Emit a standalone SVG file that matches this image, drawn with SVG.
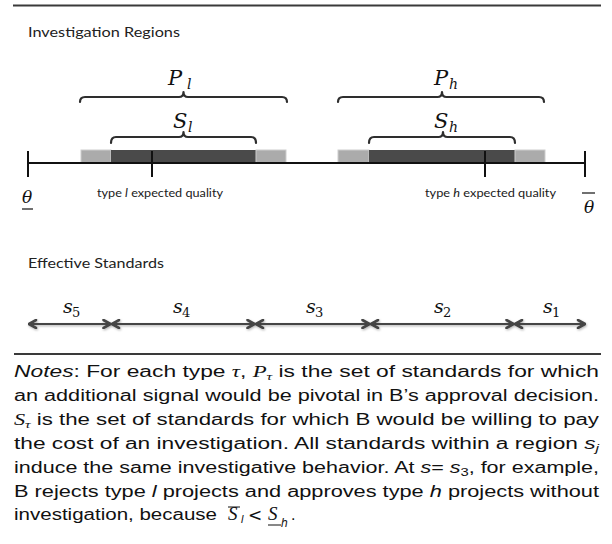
<svg xmlns="http://www.w3.org/2000/svg" width="612" height="544" viewBox="0 0 612 544">
  <style>
    .rule { stroke: #3a3a3a; stroke-width: 2; fill: none; }
    .head { font-family: Lato, "Open Sans", sans-serif; font-size: 14px; fill: #222; }
    .small { font-family: Lato, "Open Sans", sans-serif; font-size: 11px; fill: #1a1a1a; }
    .mi { font-family: "DejaVu Serif", "Liberation Serif", serif; font-style: italic; fill: #111; }
    .mr { font-family: "DejaVu Serif", "Liberation Serif", serif; font-style: normal; fill: #111; }
    .ni { font-family: "Liberation Serif", serif; font-style: italic; }
    .brace { fill: none; stroke: #2e2e2e; stroke-width: 2.2; stroke-linecap: round; stroke-linejoin: round; }
    .tick { stroke: #111; stroke-width: 2; }
    .light { fill: #ababab; stroke: #cdcdcd; stroke-width: 1; }
    .dark { fill: #4a4a4a; }
    .arrow { stroke: #444; stroke-width: 2.2; fill: none; marker-start: url(#chev); marker-end: url(#chev); }
    .notes { font-family: "Liberation Sans", Arial, sans-serif; font-size: 16px; fill: #111; }
    .it { font-style: italic; }
    .sub { font-size: 11px; }
  </style>
  <defs>
    <marker id="chev" viewBox="0 0 10 10" refX="9" refY="5" markerWidth="10" markerHeight="10" markerUnits="userSpaceOnUse" orient="auto-start-reverse">
      <path d="M2,1 L9,5 L2,9" fill="none" stroke="#444" stroke-width="2.6" stroke-linecap="round" stroke-linejoin="round"/>
    </marker>
    <filter id="shadow" filterUnits="userSpaceOnUse" x="0" y="300" width="612" height="50">
      <feDropShadow dx="0.8" dy="1.2" stdDeviation="0.8" flood-color="#000" flood-opacity="0.3"/>
    </filter>
  </defs>

  <g id="top-rule">
    <line class="rule" x1="13" y1="5.5" x2="601" y2="5.5" stroke-width="1.6"/>
  </g>

  <g id="investigation-regions-title">
    <text class="head" x="28" y="37" textLength="152" lengthAdjust="spacingAndGlyphs">Investigation Regions</text>
  </g>

  <g id="region-l">
    <rect class="light" x="81" y="150" width="30" height="13"/>
    <rect class="dark" x="111" y="150" width="145" height="13"/>
    <rect class="light" x="256" y="150" width="30" height="13"/>
    <path class="brace" d="M80,102 Q80,97 85,97 L179,97 Q183.5,97 183.5,92 Q183.5,97 188,97 L282,97 Q287,97 287,102"/>
    <path class="brace" d="M111,143 Q111,137 116,137 L179,137 Q183.5,137 183.5,132 Q183.5,137 188,137 L251,137 Q256,137 256,143"/>
    <text class="mi" x="168" y="85" font-size="21">P</text>
    <text class="mi" x="187" y="89" font-size="14">l</text>
    <text class="mi" x="173" y="128" font-size="21">S</text>
    <text class="mi" x="188" y="132" font-size="14">l</text>
  </g>

  <g id="region-h">
    <rect class="light" x="338" y="150" width="31" height="13"/>
    <rect class="dark" x="369" y="150" width="146" height="13"/>
    <rect class="light" x="515" y="150" width="30" height="13"/>
    <path class="brace" d="M338,102 Q338,97 343,97 L437.5,97 Q442,97 442,92 Q442,97 446.5,97 L539,97 Q544,97 544,102"/>
    <path class="brace" d="M369,143 Q369,137 374,137 L438.5,137 Q443,137 443,132 Q443,137 447.5,137 L510,137 Q515,137 515,143"/>
    <text class="mi" x="434" y="85" font-size="21">P</text>
    <text class="mi" x="449" y="89" font-size="14">h</text>
    <text class="mi" x="434" y="128" font-size="21">S</text>
    <text class="mi" x="449" y="132" font-size="14">h</text>
  </g>

  <g id="axis">
    <line x1="28" y1="163" x2="585" y2="163" stroke="#111" stroke-width="2"/>
    <line class="tick" x1="28" y1="151" x2="28" y2="177"/>
    <line class="tick" x1="152" y1="151" x2="152" y2="177"/>
    <line class="tick" x1="485" y1="151" x2="485" y2="177"/>
    <line class="tick" x1="585" y1="151" x2="585" y2="177"/>
    <text class="mi" x="22" y="203" font-size="17">θ</text>
    <line x1="22" y1="209" x2="33" y2="209" stroke="#111" stroke-width="1.2"/>
    <text class="mi" x="584" y="213" font-size="17">θ</text>
    <line x1="582" y1="193" x2="595" y2="193" stroke="#111" stroke-width="1.2"/>
    <text class="small" x="97" y="197" textLength="126" lengthAdjust="spacingAndGlyphs">type <tspan font-style="italic">l</tspan> expected quality</text>
    <text class="small" x="425" y="197" textLength="131" lengthAdjust="spacingAndGlyphs">type <tspan font-style="italic">h</tspan> expected quality</text>
  </g>

  <g id="effective-standards-title">
    <text class="head" x="28" y="268" textLength="136" lengthAdjust="spacingAndGlyphs">Effective Standards</text>
  </g>

  <g id="connectors" filter="url(#shadow)">
    <line class="arrow" x1="29" y1="324" x2="110.5" y2="324"/>
    <line class="arrow" x1="112" y1="324" x2="254.5" y2="324"/>
    <line class="arrow" x1="256" y1="324" x2="369.5" y2="324"/>
    <line class="arrow" x1="371" y1="324" x2="513.5" y2="324"/>
    <line class="arrow" x1="515" y1="324" x2="585" y2="324"/>
  </g>

  <g id="s5"><text class="mi" x="63" y="313" font-size="19">s</text><text class="mr" x="72" y="317" font-size="13">5</text></g>
  <g id="s4"><text class="mi" x="173" y="313" font-size="19">s</text><text class="mr" x="182" y="317" font-size="13">4</text></g>
  <g id="s3"><text class="mi" x="306" y="313" font-size="19">s</text><text class="mr" x="315" y="317" font-size="13">3</text></g>
  <g id="s2"><text class="mi" x="434" y="313" font-size="19">s</text><text class="mr" x="443" y="317" font-size="13">2</text></g>
  <g id="s1"><text class="mi" x="543" y="313" font-size="19">s</text><text class="mr" x="552" y="317" font-size="13">1</text></g>

  <g id="bottom-rule">
    <line class="rule" x1="14" y1="354" x2="601" y2="354" stroke-width="2.2"/>
  </g>

  <g id="notes" class="notes">
    <text x="14" y="377" textLength="585" lengthAdjust="spacingAndGlyphs"><tspan class="it">Notes</tspan>: For each type <tspan class="ni">τ</tspan>, <tspan class="ni">P</tspan><tspan class="ni sub" dy="3">τ</tspan><tspan dy="-3"> is the set of standards for which</tspan></text>
    <text x="14" y="401" textLength="585" lengthAdjust="spacingAndGlyphs">an additional signal would be pivotal in B’s approval decision.</text>
    <text x="14" y="425" textLength="585" lengthAdjust="spacingAndGlyphs"><tspan class="ni">S</tspan><tspan class="ni sub" dy="3">τ</tspan><tspan dy="-3"> is the set of standards for which B would be willing to pay</tspan></text>
    <text x="14" y="449" textLength="585" lengthAdjust="spacingAndGlyphs">the cost of an investigation. All standards within a region <tspan class="it">s</tspan><tspan class="it sub" dy="3">j</tspan></text>
    <text x="14" y="473" textLength="585" lengthAdjust="spacingAndGlyphs">induce the same investigative behavior. At <tspan class="it">s</tspan>= <tspan class="it">s</tspan><tspan class="sub" dy="3">3</tspan><tspan dy="-3">, for example,</tspan></text>
    <text x="14" y="497" textLength="585" lengthAdjust="spacingAndGlyphs">B rejects type <tspan class="it">l</tspan> projects and approves type <tspan class="it">h</tspan> projects without</text>
    <text x="14" y="520" textLength="203" lengthAdjust="spacingAndGlyphs">investigation, because</text>
    <text class="ni" x="228" y="520" font-size="19">S</text>
    <line x1="228" y1="507" x2="240" y2="507" stroke="#111" stroke-width="1"/>
    <text class="it" x="241" y="523" font-size="11">l</text>
    <text font-family="DejaVu Sans, sans-serif" x="248" y="521" font-size="17">&lt;</text>
    <text class="ni" x="268" y="520" font-size="19">S</text>
    <line x1="268" y1="525" x2="281" y2="525" stroke="#111" stroke-width="1"/>
    <text class="it" x="281" y="527" font-size="12">h</text>
    <text x="291" y="520">.</text>
  </g>
</svg>
